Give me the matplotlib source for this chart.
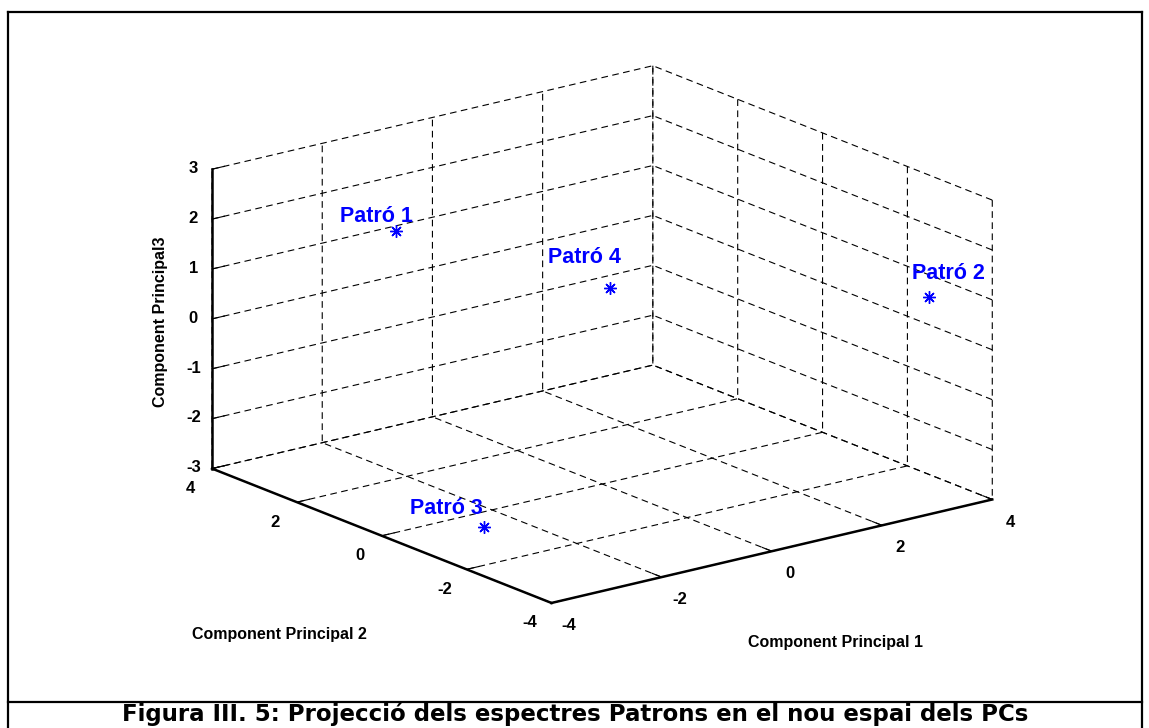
import matplotlib
matplotlib.use('Agg')
import matplotlib.pyplot as plt
from matplotlib.lines import Line2D
from matplotlib.transforms import offset_copy

# scores of the four pattern spectra on the first three PCs
labels = ['Patró 1', 'Patró 2', 'Patró 3', 'Patró 4']
pc1 = [-2.2, 3.4, -3.17, 0.6]
pc2 = [2.0, -3.28, -1.32, 0.59]
pc3 = [1.96, 0.98, -2.6, 0.58]

xticks = [-4, -2, 0, 2, 4]
yticks = [-4, -2, 0, 2, 4]
zticks = [-3, -2, -1, 0, 1, 2, 3]

xlabel = 'Component Principal 1'
ylabel = 'Component Principal 2'
zlabel = 'Component Principal3'
caption = 'Figura III. 5: Projecció dels espectres Patrons en el nou espai dels PCs'

# where each text sits relative to its marker (pixels)
label_dx = [-56, -17, -74, -62]
label_dy = [9, 18, 13, 25]

W, H = 1149, 728

plt.rcParams['font.family'] = ['Liberation Sans', 'DejaVu Sans']
plt.rcParams['font.weight'] = 'bold'
plt.rcParams['axes.unicode_minus'] = False
plt.rcParams['grid.color'] = 'black'
plt.rcParams['grid.linewidth'] = 0.8
plt.rcParams['grid.linestyle'] = (0, (6, 4))
plt.rcParams['axes.linewidth'] = 1.8

fig = plt.figure(figsize=(W / 100, H / 100), dpi=100)

side = 700
cx, cy = 592.7, 343.8
ax = fig.add_axes([(cx - side / 2) / W, (H - cy - side / 2) / H, side / W, side / H],
                  projection='3d', proj_type='ortho')
ax.set_box_aspect((1, 1, 0.565), zoom=1.175)
ax.view_init(elev=17.75, azim=-127.6)

for axis in (ax.xaxis, ax.yaxis, ax.zaxis):
    axis.set_pane_color((1, 1, 1, 0))
    axis._axinfo['grid'].update(color='black', linewidth=0.8, linestyle=(0, (6, 4)))
    axis._axinfo['tick'].update(inward_factor=0.0, outward_factor=0.35)
    axis.line.set_linewidth(1.8)
    axis.line.set_color('black')
    # titles are placed by hand below, keep the built-in ones out of the way
    axis.label.set_visible(False)
    axis.offsetText.set_visible(False)

ax.set_xlim(-4, 4)
ax.set_ylim(-4, 4)
ax.set_zlim(-3, 3)
ax.set_xticks(xticks)
ax.set_yticks(yticks)
ax.set_zticks(zticks)
ax.tick_params(labelsize=12, colors='black')
ax.tick_params(axis='x', pad=5.7)
ax.tick_params(axis='y', pad=5)
ax.tick_params(axis='z', pad=-1.7)
for axis in (ax.xaxis, ax.yaxis, ax.zaxis):
    for t in axis.get_major_ticks():
        t.label1.set_va('center')
ax.grid(True)

ax.plot(pc1, pc2, pc3, ls='none', marker=(8, 2, 0), ms=9, mew=1.0,
        color='blue')
for x, y, z, s, dx, dy in zip(pc1, pc2, pc3, labels, label_dx, label_dy):
    tr = offset_copy(ax.transData, fig=fig, x=dx, y=dy, units='dots')
    ax.text(x, y, z, s, transform=tr, color='blue', fontsize=15.5,
            ha='left', va='baseline')

# axis titles kept horizontal like the original
fig.text(836 / W, 1 - 643 / H, xlabel, ha='center', va='center', fontsize=11.5)
fig.text(279 / W, 1 - 635 / H, ylabel, ha='center', va='center', fontsize=11.5)
fig.text(161 / W, 1 - 322 / H, zlabel, ha='center', va='center', fontsize=11.5,
         rotation=90)

# frame around the figure and caption row
fx0, fx1, fy_top, fy_div = 7.5, W - 7.5, H - 11.5, H - 701.5
for xs, ys in [([fx0, fx0], [0, fy_top]), ([fx1, fx1], [0, fy_top]),
               ([fx0, fx1], [fy_top, fy_top]), ([fx0, fx1], [fy_div, fy_div])]:
    fig.add_artist(Line2D([v / W for v in xs], [v / H for v in ys],
                          transform=fig.transFigure, color='black', lw=1.6,
                          solid_capstyle='projecting'))

fig.text(575 / W, 7 / H, caption, ha='center', va='baseline', fontsize=16.5,
         family='DejaVu Sans', weight='bold')

fig.savefig('out.png', dpi=100)
